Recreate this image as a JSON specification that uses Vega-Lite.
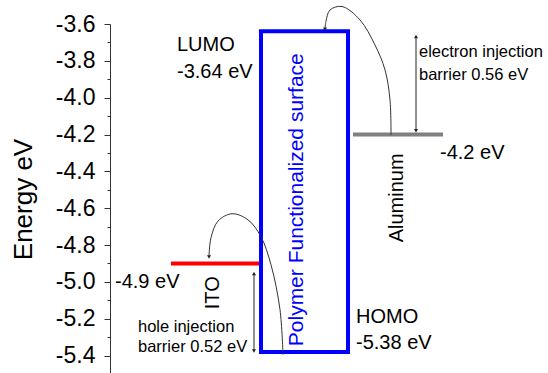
{
  "$schema": "https://vega.github.io/schema/vega-lite/v6.json",
  "width": 438,
  "height": 350,
  "autosize": {"type": "none"},
  "padding": {"left": 110, "top": 24, "right": 0, "bottom": 0},
  "background": "white",
  "config": {
    "view": {"stroke": null},
    "font": "Liberation Sans",
    "text": {"font": "Liberation Sans"},
    "axis": {"labelOverlap": false}
  },
  "resolve": {"axis": {"y": "independent"}},
  "datasets": {
    "box": [{"name": "Polymer", "left": 151, "right": 238, "lumo": -3.64, "homo": -5.38}],
    "levels": [
      {"name": "ITO", "x0": 61, "x1": 149, "e": -4.9},
      {"name": "Aluminum", "x0": 243, "x1": 333, "e": -4.2}
    ],
    "barriers": [
      {"name": "electron", "x": 306, "top": -3.668, "bottom": -4.18},
      {"name": "hole", "x": 144, "top": -4.955, "bottom": -5.375}
    ],
    "heads": [
      {"x": 306, "e": -3.668, "dir": "up"},
      {"x": 306, "e": -4.18, "dir": "down"},
      {"x": 144, "e": -4.955, "dir": "up"},
      {"x": 144, "e": -5.375, "dir": "down"},
      {"x": 99, "e": -4.865, "dir": "down"},
      {"x": 215, "e": -3.628, "dir": "down"}
    ],
    "curves": [
      {"c": "hole", "i": 0, "x": 173, "e": -5.395},
      {"c": "hole", "i": 1, "x": 170, "e": -5.151},
      {"c": "hole", "i": 2, "x": 161, "e": -4.907},
      {"c": "hole", "i": 3, "x": 151, "e": -4.755},
      {"c": "hole", "i": 4, "x": 138, "e": -4.663},
      {"c": "hole", "i": 5, "x": 122, "e": -4.63},
      {"c": "hole", "i": 6, "x": 108, "e": -4.67},
      {"c": "hole", "i": 7, "x": 101, "e": -4.76},
      {"c": "hole", "i": 8, "x": 99, "e": -4.86},
      {"c": "electron", "i": 0, "x": 281, "e": -4.202},
      {"c": "electron", "i": 1, "x": 280, "e": -4.012},
      {"c": "electron", "i": 2, "x": 275, "e": -3.849},
      {"c": "electron", "i": 3, "x": 265, "e": -3.714},
      {"c": "electron", "i": 4, "x": 250, "e": -3.578},
      {"c": "electron", "i": 5, "x": 232, "e": -3.505},
      {"c": "electron", "i": 6, "x": 220, "e": -3.524},
      {"c": "electron", "i": 7, "x": 216, "e": -3.585},
      {"c": "electron", "i": 8, "x": 215, "e": -3.625}
    ],
    "bigLabels": [
      {"t": "LUMO", "x": 67, "e": -3.714},
      {"t": "-3.64 eV", "x": 67, "e": -3.86},
      {"t": "HOMO", "x": 246, "e": -5.189},
      {"t": "-5.38 eV", "x": 246, "e": -5.33},
      {"t": "-4.2 eV", "x": 330, "e": -4.3},
      {"t": "-4.9 eV", "x": 5, "e": -4.999}
    ],
    "smallLabels": [
      {"t": "electron injection", "x": 309, "e": -3.75},
      {"t": "barrier 0.56 eV", "x": 309, "e": -3.876},
      {"t": "hole injection", "x": 28, "e": -5.243},
      {"t": "barrier 0.52 eV", "x": 28, "e": -5.352}
    ],
    "vertLabels": [
      {"t": "ITO", "x": 103, "e": -5.059},
      {"t": "Aluminum", "x": 287, "e": -4.544}
    ],
    "polyLabel": [
      {"t": "Polymer Functionalized surface", "x": 187, "e": -4.554}
    ]
  },
  "layer": [
    {
      "data": {"name": "box"},
      "mark": {"type": "rect", "filled": false, "stroke": "#0000ff", "strokeWidth": 4},
      "encoding": {
        "x": {"field": "left", "type": "quantitative", "scale": {"domain": [0, 438], "nice": false, "zero": false}, "axis": null},
        "x2": {"field": "right"},
        "y": {
          "field": "lumo", "type": "quantitative",
          "scale": {"domain": [-5.5, -3.6], "nice": false, "zero": false},
          "axis": {
            "orient": "left",
            "title": "Energy eV",
            "titleFont": "Liberation Sans",
            "titleFontSize": 26,
            "titleFontWeight": "normal",
            "titleColor": "black",
            "titlePadding": 19,
            "values": [-5.4, -5.0, -4.6, -4.2, -3.8],
            "labelExpr": "replace(format(datum.value, '.1f'), '\u2212', '-')",
            "labelFont": "Liberation Sans",
            "labelFontSize": 23,
            "labelColor": "black",
            "labelPadding": 9,
            "labelOverlap": false,
            "labelFlush": false,
            "tickSize": 6,
            "tickColor": "#333",
            "domainColor": "#333",
            "grid": false
          }
        },
        "y2": {"field": "homo"}
      }
    },
    {
      "data": {"name": "levels"},
      "mark": {"type": "rule", "strokeWidth": 4},
      "encoding": {
        "x": {"field": "x0", "type": "quantitative"},
        "x2": {"field": "x1"},
        "y": {
          "field": "e", "type": "quantitative",
          "axis": {
            "orient": "left",
            "title": null,
            "values": [-5.2, -4.8, -4.4, -4.0, -3.6],
            "labelExpr": "replace(format(datum.value, '.1f'), '\u2212', '-')",
            "labelFont": "Liberation Sans",
            "labelFontSize": 23,
            "labelColor": "black",
            "labelPadding": 9,
            "labelOverlap": false,
            "labelFlush": false,
            "tickSize": 6,
            "tickColor": "#333",
            "domain": false,
            "grid": false
          }
        },
        "color": {"field": "name", "type": "nominal", "scale": {"domain": ["ITO", "Aluminum"], "range": ["#ff0000", "#808080"]}, "legend": null}
      }
    },
    {
      "data": {"name": "barriers"},
      "mark": {"type": "rule", "strokeWidth": 1, "color": "#222"},
      "encoding": {
        "x": {"field": "x", "type": "quantitative"},
        "y": {
          "field": "top", "type": "quantitative",
          "axis": {
            "orient": "left",
            "title": null,
            "values": [-5.5, -5.3, -5.1, -4.9, -4.7, -4.5, -4.3, -4.1, -3.9, -3.7],
            "labels": false,
            "tickSize": 3,
            "tickColor": "#333",
            "domain": false,
            "grid": false
          }
        },
        "y2": {"field": "bottom"}
      }
    },
    {
      "data": {"name": "curves"},
      "mark": {"type": "line", "interpolate": "catmull-rom", "strokeWidth": 1, "color": "#333"},
      "encoding": {
        "x": {"field": "x", "type": "quantitative"},
        "y": {"field": "e", "type": "quantitative", "axis": null},
        "detail": {"field": "c"},
        "order": {"field": "i", "type": "quantitative"}
      }
    },
    {
      "data": {"name": "heads"},
      "mark": {"type": "point", "filled": true, "color": "#222", "size": 16, "opacity": 1},
      "encoding": {
        "x": {"field": "x", "type": "quantitative"},
        "y": {"field": "e", "type": "quantitative", "axis": null},
        "shape": {"field": "dir", "type": "nominal", "scale": {"domain": ["up", "down"], "range": ["triangle-up", "triangle-down"]}, "legend": null}
      }
    },
    {
      "data": {"name": "bigLabels"},
      "mark": {"type": "text", "align": "left", "baseline": "middle", "fontSize": 20, "color": "black"},
      "encoding": {
        "x": {"field": "x", "type": "quantitative"},
        "y": {"field": "e", "type": "quantitative", "axis": null},
        "text": {"field": "t"}
      }
    },
    {
      "data": {"name": "smallLabels"},
      "mark": {"type": "text", "align": "left", "baseline": "middle", "fontSize": 16.5, "color": "black"},
      "encoding": {
        "x": {"field": "x", "type": "quantitative"},
        "y": {"field": "e", "type": "quantitative", "axis": null},
        "text": {"field": "t"}
      }
    },
    {
      "data": {"name": "vertLabels"},
      "mark": {"type": "text", "align": "center", "baseline": "middle", "angle": 270, "fontSize": 20, "color": "black"},
      "encoding": {
        "x": {"field": "x", "type": "quantitative"},
        "y": {"field": "e", "type": "quantitative", "axis": null},
        "text": {"field": "t"}
      }
    },
    {
      "data": {"name": "polyLabel"},
      "mark": {"type": "text", "align": "center", "baseline": "middle", "angle": 270, "fontSize": 21, "color": "#0000ff"},
      "encoding": {
        "x": {"field": "x", "type": "quantitative"},
        "y": {"field": "e", "type": "quantitative", "axis": null},
        "text": {"field": "t"}
      }
    }
  ]
}
